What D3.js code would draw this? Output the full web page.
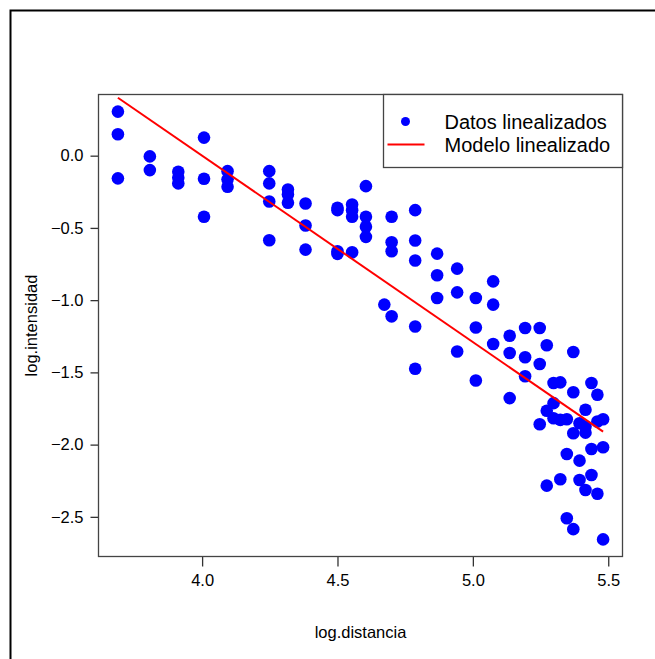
<!DOCTYPE html>
<html>
<head>
<meta charset="utf-8">
<script src="https://cdn.jsdelivr.net/npm/d3@7"></script>
<style>
body { margin: 0; background: #fff; }
text { font-family: "Liberation Sans", Arial, sans-serif; fill: #000; }
</style>
</head>
<body>
<div id="chart"></div>
<script>
// log of distance (x) and log of intensity (y), one entry per point
var logDist = [
  3.689, 3.689, 3.689,
  3.807, 3.807,
  3.912, 3.912, 3.912,
  4.007, 4.007, 4.007,
  4.094, 4.094, 4.094,
  4.248, 4.248, 4.248, 4.248,
  4.317, 4.317, 4.317,
  4.382, 4.382, 4.382,
  4.500, 4.500, 4.500, 4.500,
  4.554, 4.554, 4.554, 4.554,
  4.605, 4.605, 4.605, 4.605,
  4.673,
  4.700, 4.700, 4.700, 4.700,
  4.787, 4.787, 4.787, 4.787, 4.787,
  4.868, 4.868, 4.868,
  4.942, 4.942, 4.942,
  5.011, 5.011, 5.011,
  5.075, 5.075, 5.075,
  5.136, 5.136, 5.136,
  5.193, 5.193, 5.193,
  5.247, 5.247, 5.247,
  5.273, 5.273, 5.273,
  5.298, 5.298, 5.298,
  5.323, 5.323, 5.323,
  5.347, 5.347, 5.347,
  5.371, 5.371, 5.371, 5.371,
  5.394, 5.394, 5.394,
  5.416, 5.416, 5.416, 5.416,
  5.438, 5.438, 5.438,
  5.460, 5.460, 5.460,
  5.481, 5.481, 5.481
];
var logInt = [
  0.305, 0.148, -0.157,
  -0.005, -0.100,
  -0.111, -0.153, -0.192,
  0.125, -0.160, -0.423,
  -0.107, -0.164, -0.215,
  -0.107, -0.192, -0.317, -0.585,
  -0.234, -0.268, -0.326,
  -0.331, -0.483, -0.650,
  -0.361, -0.377, -0.662, -0.680,
  -0.338, -0.377, -0.423, -0.669,
  -0.211, -0.423, -0.492, -0.562,
  -1.031,
  -0.423, -0.599, -0.662, -1.112,
  -0.377, -0.587, -0.726, -1.182, -1.475,
  -0.678, -0.828, -0.985,
  -0.782, -0.946, -1.355,
  -0.985, -1.189, -1.556,
  -0.870, -1.031, -1.304,
  -1.246, -1.366, -1.678,
  -1.193, -1.395, -1.527,
  -1.193, -1.442, -1.859,
  -1.312, -1.766, -2.284,
  -1.574, -1.713, -1.817,
  -1.569, -1.829, -2.240,
  -1.824, -2.065, -2.510,
  -1.359, -1.638, -1.921, -2.585,
  -1.852, -2.111, -2.245,
  -1.759, -1.875, -1.917, -2.314,
  -1.574, -2.030, -2.210,
  -1.655, -1.840, -2.340,
  -1.824, -2.018, -2.656
];
// fitted model: logInt = intercept + slope * logDist
var intercept = 5.16;
var slope = -1.29;

var xTicks = [4.0, 4.5, 5.0, 5.5];
var yTicks = [0.0, -0.5, -1.0, -1.5, -2.0, -2.5];
var legendLabels = ["Datos linealizados", "Modelo linealizado"];

var W = 655, H = 659;
var margin = {top: 94.5, bottom: 102.5, right: 32.5, left: 98.5},
    width = W - margin.left - margin.right,
    height = H - margin.top - margin.bottom;

var points = logDist.map(function(d, i){ return {x: d, y: logInt[i]}; });

// R style: data range plus 4% on each side
function pad(ext){
  var r = ext[1] - ext[0];
  return [ext[0] - r*0.04, ext[1] + r*0.04];
}

var x = d3.scaleLinear()
  .domain(pad(d3.extent(logDist)))
  .range([0, width]);

var y = d3.scaleLinear()
  .domain(pad(d3.extent(logInt)))
  .range([height, 0]);

var root = d3.select("#chart")
  .append("svg")
  .attr("width", W)
  .attr("height", H);

// outer frame
root.append("rect")
  .attr("x", 10.5).attr("y", 10.5)
  .attr("width", W + 20).attr("height", H + 20)
  .attr("fill", "none")
  .attr("stroke", "#000")
  .attr("stroke-width", 2);

var svg = root.append("g")
  .attr("transform", "translate(" + margin.left + "," + margin.top + ")");

// x axis
var xAxis = svg.append("g")
  .attr("transform", "translate(0," + height + ")")
  .call(d3.axisBottom(x).tickValues(xTicks).tickFormat(d3.format(".1f")).tickSize(10).tickPadding(8));
xAxis.select(".domain").remove();
xAxis.selectAll("line").attr("stroke", "#333").attr("stroke-width", 1.3);
xAxis.selectAll("text").style("font-size", "16.5px").style("font-family", "Liberation Sans, Arial, sans-serif").attr("fill", "#111");

// y axis
var yAxis = svg.append("g")
  .call(d3.axisLeft(y).tickValues(yTicks).tickFormat(d3.format(".1f")).tickSize(8).tickPadding(7));
yAxis.select(".domain").remove();
yAxis.selectAll("line").attr("stroke", "#333").attr("stroke-width", 1.3);
yAxis.selectAll("text").style("font-size", "16.5px").style("font-family", "Liberation Sans, Arial, sans-serif").attr("fill", "#111");

// points
svg.append("g")
  .selectAll("circle")
  .data(points)
  .enter()
  .append("circle")
  .attr("cx", function(d){ return x(d.x); })
  .attr("cy", function(d){ return y(d.y); })
  .attr("r", 6.3)
  .attr("fill", "#0000ff");

// model line over the data range
var xr = d3.extent(logDist);
svg.append("path")
  .datum(xr.map(function(v){ return {x: v, y: intercept + slope*v}; }))
  .attr("d", d3.line().x(function(d){ return x(d.x); }).y(function(d){ return y(d.y); }))
  .attr("stroke", "#ff0000")
  .attr("stroke-width", 2)
  .attr("fill", "none");

// plot box
svg.append("rect")
  .attr("width", width)
  .attr("height", height)
  .attr("fill", "none")
  .attr("stroke", "#444")
  .attr("stroke-width", 1.3);

// legend
var lg = svg.append("g")
  .attr("transform", "translate(" + (width - 239) + ",0)");
lg.append("rect")
  .attr("width", 239)
  .attr("height", 73)
  .attr("fill", "#fff")
  .attr("stroke", "#444")
  .attr("stroke-width", 1.3);
lg.append("circle")
  .attr("cx", 22).attr("cy", 27)
  .attr("r", 4.5)
  .attr("fill", "#0000ff");
lg.append("line")
  .attr("x1", 4).attr("x2", 41)
  .attr("y1", 50).attr("y2", 50)
  .attr("stroke", "#ff0000")
  .attr("stroke-width", 2);
lg.selectAll("text.leg")
  .data(legendLabels)
  .enter()
  .append("text")
  .attr("class", "leg")
  .attr("x", 61)
  .attr("y", function(d, i){ return 27 + i*23; })
  .attr("dy", "0.35em")
  .style("font-size", "20px")
  .text(function(d){ return d; });

// axis titles
root.append("text")
  .text("log.distancia")
  .attr("text-anchor", "middle")
  .attr("x", margin.left + width/2)
  .attr("y", 638)
  .style("font-size", "16.5px");

root.append("g")
  .attr("transform", "translate(37," + (margin.top + height/2) + ")")
  .append("text")
  .text("log.intensidad")
  .attr("text-anchor", "middle")
  .attr("transform", "rotate(-90)")
  .style("font-size", "16.5px");
</script>
</body>
</html>
